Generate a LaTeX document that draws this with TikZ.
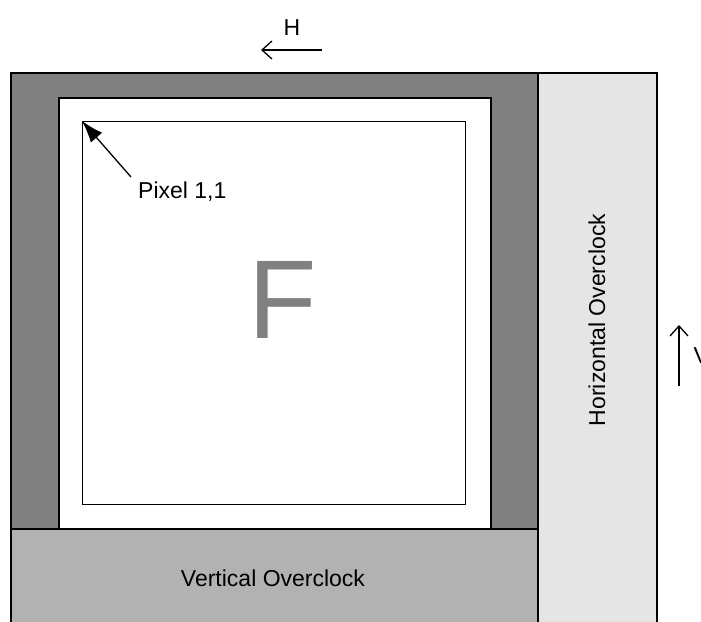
\documentclass[tikz,border=0pt]{standalone}
\usepackage{fontspec}
\setmainfont{Liberation Sans}
\usetikzlibrary{arrows.meta, positioning}

\tikzset{
  area/.style={draw, line width=1.6pt, anchor=north west, inner sep=0pt},
  label text/.style={font=\fontsize{23}{27}\selectfont},
  dir arrow/.style={line width=1.3pt, -{Straight Barb[length=10pt, width=18pt, line width=1.3pt]}},
}

\begin{document}
\begin{tikzpicture}[x=1pt, y=-1pt]
  \useasboundingbox (0,0) rectangle (701,621);
  \clip (0,0) rectangle (701,621);
  % overscan areas
  \node[area, fill=black!50, minimum width=527pt, minimum height=456pt] (dark) at (10,72) {};
  \node[area, fill=black!10, minimum width=119pt, minimum height=580pt] (hover) at (537,72) {};
  \node[area, fill=black!30, minimum width=527pt, minimum height=110pt] (vover) at (10,528) {};
  \node[area, fill=white, minimum width=432pt, minimum height=431pt] (image) at (58,97) {};
  \node[area, line width=1.3pt, minimum width=383pt, minimum height=383pt] (pixels) at (82,121) {};
  % labels
  \node[label text] at (273,578) {Vertical Overclock};
  \node[label text, rotate=90] at (597,320) {Horizontal Overclock};
  \node[font=\fontsize{112}{120}\selectfont, text=black!50] (letter) at (283,300) {F};
  \node[label text, anchor=west, inner sep=1pt] (pix) at (137,192) {Pixel 1,1};
  \coordinate (corner) at (pixels.north west);
  \draw[line width=1.3pt, -{Latex[length=22pt, width=15pt]}] (pix.north west) ++(-6,-4) -- (corner);
  % scan directions
  \coordinate (hstart) at (322,50);
  \coordinate (hend) at (261,50);
  \draw[dir arrow] (hstart) -- (hend);
  \node[label text] (hlab) at (292,28) {H};
  \coordinate (vstart) at (679,386);
  \coordinate (vend) at (679,325);
  \draw[dir arrow] (vstart) -- (vend);
  \node[label text, anchor=west] (vlab) at (690,356) {V};
\end{tikzpicture}
\end{document}
